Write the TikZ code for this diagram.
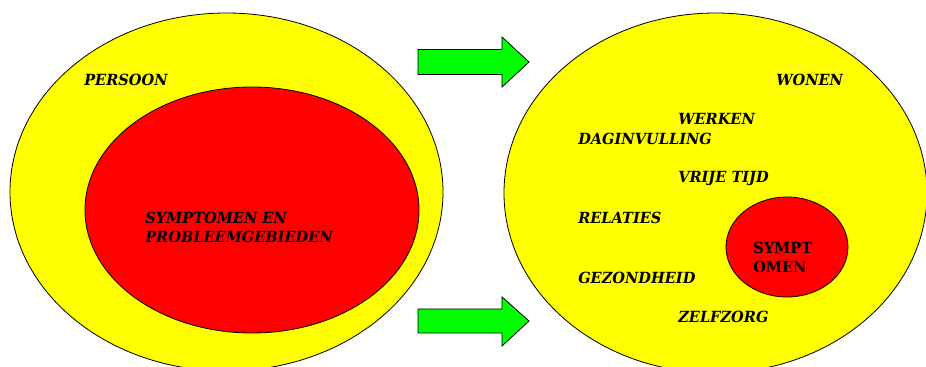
\documentclass[tikz,border=0pt]{standalone}
\usepackage{fontspec}
\setmainfont[FakeStretch=0.95]{DejaVu Serif}
\usepackage{tikz}
\usetikzlibrary{shapes,positioning}

\definecolor{geel}{RGB}{255,255,0}
\definecolor{rood}{RGB}{255,0,0}
\definecolor{groen}{RGB}{0,255,0}

\begin{document}
\begin{tikzpicture}[
    x=0.75pt, y=-0.75pt,
    blob/.style={ellipse, draw, line width=0.6pt, inner sep=0pt},
    lbl/.style={anchor=west, inner sep=0pt, align=left, font=\fontsize{11.5}{14.3}\selectfont\bfseries\itshape},
    pijl/.style={draw, line width=0.6pt, fill=groen, line join=miter}
]
\useasboundingbox (0,0) rectangle (926,367);

% Left side
\node[blob, fill=geel, minimum width=324.75pt, minimum height=268.5pt] (persoon) at (226.5,192) {};
\node[blob, fill=rood, minimum width=250.5pt, minimum height=184.5pt] (sympt) at (252,210) {};
\node[lbl] (lpersoon) at (84,80) {PERSOON};
\node[lbl] (lsympt) at (145,227.5) {SYMPTOMEN EN\\PROBLEEMGEBIEDEN};

% Arrows
\draw[pijl] (418,49.5) -- (502,49.5) -- (502,37) -- (529,62) -- (502,87) -- (502,74.5) -- (418,74.5) -- cycle;
\draw[pijl] (418,309) -- (502,309) -- (502,297) -- (529,321) -- (502,346) -- (502,333) -- (418,333) -- cycle;

% Right side
\node[blob, fill=geel, minimum width=317.25pt, minimum height=270pt] (leven) at (715.5,193) {};
\node[blob, fill=rood, minimum width=91.5pt, minimum height=75pt] (klein) at (787,247) {};
\node[lbl] (wonen) at (776,80) {WONEN};
\node[lbl] (werken) at (678,119) {WERKEN};
\node[lbl] (dag) at (578,139) {DAGINVULLING};
\node[lbl] (vrij) at (678,179) {VRIJE TIJD};
\node[lbl] (relaties) at (578,218) {RELATIES};
\node[lbl] (gezond) at (578,278) {GEZONDHEID};
\node[lbl] (zelfzorg) at (678,317) {ZELFZORG};
\node[lbl, font=\fontsize{11.5}{14.3}\selectfont\bfseries] (lklein) at (753,257.5) {SYMPT\\OMEN};

\end{tikzpicture}
\end{document}
